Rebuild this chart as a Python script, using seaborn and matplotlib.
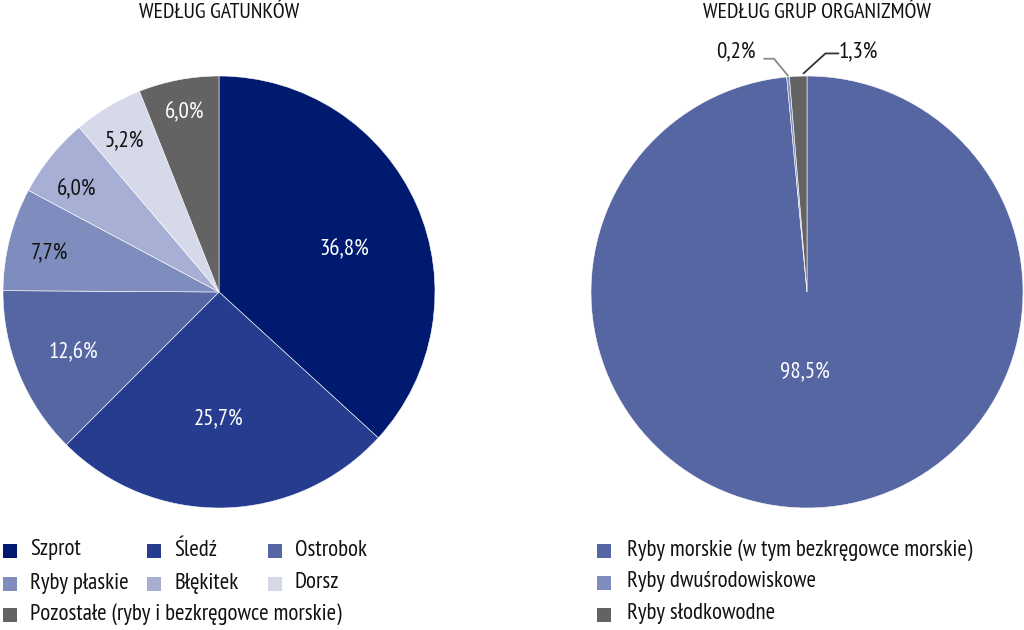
import matplotlib
matplotlib.use("Agg")
import numpy as np
import matplotlib.pyplot as plt
from matplotlib.patches import Rectangle
import seaborn as sns

# dane
gatunki = ["Szprot", "Śledź", "Ostrobok", "Ryby płaskie", "Błękitek", "Dorsz",
           "Pozostałe (ryby i bezkręgowce morskie)"]
gatunki_udzial = [36.8, 25.7, 12.6, 7.7, 6.0, 5.2, 6.0]
gatunki_kolory = ["#001a70", "#263d8f", "#5566a3", "#7f8dbe", "#a7b0d4", "#d5d9ea", "#636363"]

grupy = ["Ryby morskie (w tym bezkręgowce morskie)", "Ryby dwuśrodowiskowe",
         "Ryby słodkowodne"]
grupy_udzial = [98.5, 0.2, 1.3]
grupy_kolory = ["#5566a3", "#7f8dbe", "#636363"]

sns.set_theme(style="white")
plt.rcParams["font.family"] = ["PT Sans Narrow", "Liberation Sans", "DejaVu Sans"]
FS_PIE = 16.5
FS_LEG = 16.5
FS_TYT = 15.7

fig = plt.figure(figsize=(10.24, 6.3), dpi=100)
W, H = 1024, 630
R = 216.0  # promień koła w pikselach


def fmt(v):
    return f"{v:.1f}%".replace(".", ",")


# ---- lewy wykres: według gatunków ----
ax1 = fig.add_axes([3 / W, 1 - 508 / H, 432 / W, 432 / H])
wedges, _ = ax1.pie(gatunki_udzial, colors=gatunki_kolory, startangle=90,
                    counterclock=False, radius=1,
                    wedgeprops=dict(edgecolor="white", linewidth=0.4))
ax1.set_xlim(-1, 1)
ax1.set_ylim(-1, 1)
ax1.set_aspect("equal")

# położenie etykiet (piksele względem środka koła)
etyk_xy = [(125, 42), (0, -128), (-146, -61), (-170, 38), (-142, 102), (-95, 150), (-34, 179)]
jasne = [True, True, True, False, False, False, True]
for v, (dx, dy), j in zip(gatunki_udzial, etyk_xy, jasne):
    ax1.text(dx / R, dy / R, fmt(v), ha="center", va="center",
             fontsize=FS_PIE, color="white" if j else "#111111")
fig.text(219 / W, 1 - 13 / H, "WEDŁUG GATUNKÓW", ha="center", va="center",
         fontsize=FS_TYT, color="#111111")

# ---- prawy wykres: według grup organizmów ----
ax2 = fig.add_axes([591 / W, 1 - 508 / H, 432 / W, 432 / H])
wedges2, _ = ax2.pie(grupy_udzial, colors=grupy_kolory, startangle=90,
                     counterclock=False, radius=1,
                     wedgeprops=dict(edgecolor="white", linewidth=0.4))
ax2.set_xlim(-1, 1)
ax2.set_ylim(-1, 1)
ax2.set_aspect("equal")
ax2.text(-2 / R, -81 / R, fmt(grupy_udzial[0]),
         ha="center", va="center", fontsize=FS_PIE, color="white")

# małe wycinki - etykiety z liniami łamanymi
male = [(wedges2[1], grupy_udzial[1], -1, "#8a8a8a"),
        (wedges2[2], grupy_udzial[2], 1, "#333333")]
for w, v, s, lc in male:
    if s < 0:
        a = np.deg2rad((w.theta1 + w.theta2) / 2)
        px, py = np.cos(a), np.sin(a) + 0.005
        kx, ky = px - 14 / R, py + 17 / R
        hx = kx - 10 / R
        tx, ty = hx - 28 / R, ky + 6 / R
    else:
        a = np.deg2rad(w.theta1 + 0.2 * (w.theta2 - w.theta1))
        px, py = np.cos(a), np.sin(a) + 0.012
        kx, ky = px + 22 / R, py + 20 / R
        hx = kx + 13 / R
        tx, ty = hx + 20 / R, ky + 1 / R
    ax2.plot([px, kx, hx], [py, ky, ky], color=lc, lw=1.3, clip_on=False,
             solid_joinstyle="miter")
    ax2.text(tx, ty, fmt(v), ha="center", va="center", fontsize=FS_LEG,
             color="#111111", clip_on=False)
fig.text(817 / W, 1 - 13 / H, "WEDŁUG GRUP ORGANIZMÓW", ha="center", va="center",
         fontsize=FS_TYT, color="#111111")


# ---- legendy ----
def legenda(etykiety, kolory, pozycje, odstep):
    for e, k, (x, y) in zip(etykiety, kolory, pozycje):
        fig.patches.append(Rectangle((x / W, 1 - (y + 7) / H), 14 / W, 14 / H,
                                     transform=fig.transFigure, facecolor=k,
                                     edgecolor="none"))
        fig.text((x + odstep) / W, 1 - (y - 1) / H, e, ha="left", va="center",
                 fontsize=FS_LEG, color="#111111")


legenda(gatunki, gatunki_kolory,
        [(3, 551), (147, 551), (268, 551), (3, 584), (147, 584), (268, 584), (3, 615)], 27)
legenda(grupy, grupy_kolory, [(597, 551), (597, 583), (597, 615)], 30)

fig.savefig("out.png", dpi=100)
